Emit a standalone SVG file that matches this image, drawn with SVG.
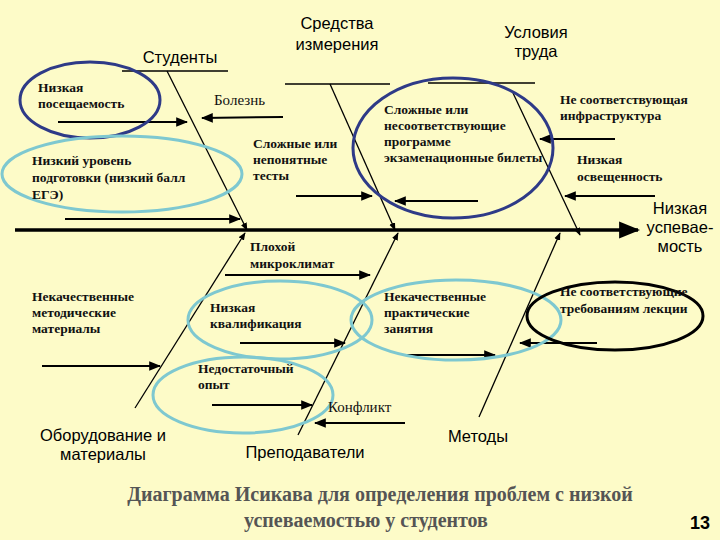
<svg xmlns="http://www.w3.org/2000/svg" width="720" height="540" viewBox="0 0 720 540">
<defs>
<marker id="ah" viewBox="0 0 10 10" refX="9" refY="5" markerWidth="6" markerHeight="6" orient="auto"><path d="M0,1 L10,5 L0,9 z" fill="#000"/></marker>
<style>
.ln{stroke:#000;stroke-width:1.3;fill:none}
.br{stroke:#000;stroke-width:2;fill:none;marker-end:url(#ah)}
.t{font-family:"Liberation Serif",serif;font-size:13.5px;font-weight:bold;fill:#111}
.tr{font-family:"Liberation Serif",serif;font-size:15px;fill:#111}
.h{font-family:"Liberation Sans",sans-serif;font-size:16.5px;fill:#000;text-anchor:middle}
.dk{fill:none;stroke:#2e3a87;stroke-width:3}
.lt{fill:none;stroke:#7ec8d0;stroke-width:3}
.bk{fill:none;stroke:#000;stroke-width:3}
</style>
</defs>
<rect width="720" height="540" fill="#fdfbc8"/>
<g id="connectors">
<line x1="15" y1="230" x2="638" y2="230" stroke="#000" stroke-width="3.5" marker-end="url(#ah)"/>
<line class="ln" x1="122" y1="71" x2="228" y2="71"/>
<line class="ln" x1="167" y1="71" x2="247" y2="230" marker-end="url(#ah)"/>
<line class="ln" x1="285" y1="84" x2="390" y2="84"/>
<line class="ln" x1="330" y1="84" x2="395" y2="230" marker-end="url(#ah)"/>
<line class="ln" x1="428" y1="83" x2="535" y2="83"/>
<line class="ln" x1="513" y1="93" x2="580" y2="235" marker-end="url(#ah)"/>
<line class="ln" x1="135" y1="408" x2="245" y2="233" marker-end="url(#ah)"/>
<line class="ln" x1="298" y1="435" x2="398" y2="233" marker-end="url(#ah)"/>
<line class="ln" x1="479" y1="417" x2="560" y2="233" marker-end="url(#ah)"/>
<line class="br" x1="58" y1="122" x2="187" y2="122"/>
<line class="br" x1="283" y1="117" x2="202" y2="118"/>
<line class="br" x1="65" y1="219" x2="240" y2="219"/>
<line class="br" x1="296" y1="196" x2="372" y2="196"/>
<line class="br" x1="478" y1="201" x2="395" y2="201"/>
<line class="br" x1="615" y1="139" x2="540" y2="139"/>
<line class="br" x1="655" y1="196" x2="565" y2="196"/>
<line class="br" x1="225" y1="275" x2="370" y2="275"/>
<line class="br" x1="42" y1="366" x2="160" y2="366"/>
<line class="br" x1="240" y1="343" x2="345" y2="343"/>
<line class="br" x1="405" y1="355" x2="495" y2="355"/>
<line class="br" x1="597" y1="343" x2="520" y2="343"/>
<line class="br" x1="212" y1="405" x2="312" y2="405"/>
<line class="br" x1="405" y1="423" x2="315" y2="423"/>
</g>
<g id="ellipses">
<ellipse class="dk" cx="90" cy="100" rx="70" ry="38"/>
<ellipse class="lt" cx="122" cy="174" rx="120" ry="38"/>
<ellipse class="dk" cx="453" cy="148" rx="100" ry="70"/>
<ellipse class="lt" cx="280" cy="320" rx="92" ry="39"/>
<ellipse class="lt" cx="456" cy="320" rx="105" ry="40"/>
<ellipse class="bk" cx="615" cy="316" rx="88" ry="34"/>
<ellipse class="lt" cx="243" cy="395" rx="90" ry="38"/>
</g>
<g id="categories">
<text class="h" x="180" y="63">Студенты</text>
<text class="h" x="337" y="29">Средства</text><text class="h" x="337" y="50">измерения</text>
<text class="h" x="536" y="38">Условия</text><text class="h" x="536" y="57">труда</text>
<text class="h" x="103" y="441">Оборудование и</text><text class="h" x="103" y="460">материалы</text>
<text class="h" x="305" y="458">Преподаватели</text>
<text class="h" x="478" y="442">Методы</text>
<text class="h" x="680" y="214">Низкая</text><text class="h" x="680" y="233">успевае-</text><text class="h" x="680" y="252">мость</text>
</g>
<g id="causes">
<text class="t" x="38" y="92">Низкая</text><text class="t" x="38" y="108">посещаемость</text>
<text class="tr" x="214" y="105">Болезнь</text>
<text class="t" x="32" y="165">Низкий уровень</text><text class="t" x="32" y="182">подготовки (низкий балл</text><text class="t" x="32" y="199">ЕГЭ)</text>
<text class="t" x="253" y="148">Сложные или</text><text class="t" x="253" y="164">непонятные</text><text class="t" x="253" y="180">тесты</text>
<text class="t" x="384" y="114">Сложные или</text><text class="t" x="384" y="130">несоответствующие</text><text class="t" x="384" y="146">программе</text><text class="t" x="384" y="162">экзаменационные билеты</text>
<text class="t" x="560" y="104">Не соответствующая</text><text class="t" x="560" y="120">инфраструктура</text>
<text class="t" x="577" y="164">Низкая</text><text class="t" x="577" y="181">освещенность</text>
<text class="t" x="250" y="251">Плохой</text><text class="t" x="250" y="268">микроклимат</text>
<text class="t" x="32" y="301">Некачественные</text><text class="t" x="32" y="317">методические</text><text class="t" x="32" y="333">материалы</text>
<text class="t" x="210" y="312">Низкая</text><text class="t" x="210" y="328">квалификация</text>
<text class="t" x="384" y="301">Некачественные</text><text class="t" x="384" y="317">практические</text><text class="t" x="384" y="333">занятия</text>
<text class="t" x="560" y="296">Не соответствующие</text><text class="t" x="560" y="313">требованиям лекции</text>
<text class="t" x="198" y="373">Недостаточный</text><text class="t" x="198" y="389">опыт</text>
<text class="tr" x="328" y="412">Конфликт</text>
</g>
<g id="title">
<text x="380" y="501" text-anchor="middle" font-family="Liberation Serif,serif" font-size="20" font-weight="bold" fill="#555">Диаграмма Исикава для определения проблем с низкой</text>
<text x="366" y="527" text-anchor="middle" font-family="Liberation Serif,serif" font-size="20" font-weight="bold" fill="#555">успеваемостью у студентов</text>
<text x="700" y="529" text-anchor="middle" font-family="Liberation Sans,sans-serif" font-size="18" font-weight="bold">13</text>
</g>
</svg>
